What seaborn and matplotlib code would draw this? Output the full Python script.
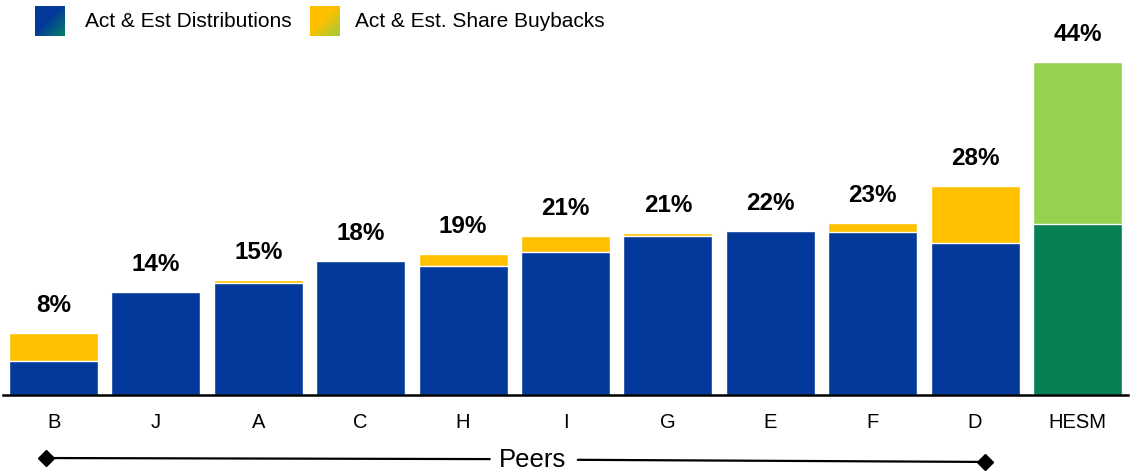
import numpy as np
import pandas as pd
import matplotlib
matplotlib.use("Agg")
import matplotlib.pyplot as plt
from matplotlib.colors import to_rgb
import seaborn as sns

# values (percent)
companies = ['B', 'J', 'A', 'C', 'H', 'I', 'G', 'E', 'F', 'D', 'HESM']
distributions = [4.5, 13.6, 14.8, 17.7, 17.0, 18.9, 21.0, 21.65, 21.5, 20.0, 22.6]
buybacks = [3.7, 0.0, 0.4, 0.0, 1.6, 2.1, 0.35, 0.0, 1.15, 7.6, 21.4]
labels = ['8%', '14%', '15%', '18%', '19%', '21%', '21%', '22%', '23%', '28%', '44%']
legend_names = ['Act & Est Distributions', 'Act & Est. Share Buybacks']

BLUE = '#02399A'
YELLOW = '#FFC000'
DKGREEN = '#058053'
LTGREEN = '#94D250'

df = pd.DataFrame({'company': companies,
                   'dist': distributions,
                   'buyback': buybacks})
df['total'] = df['dist'] + df['buyback']

sns.set_style("white")
plt.rcParams['font.family'] = ['Liberation Sans', 'DejaVu Sans']
plt.rcParams['text.color'] = 'black'
plt.rcParams['xtick.color'] = 'black'

W, H = 1131, 473
fig = plt.figure(figsize=(W / 100, H / 100), dpi=100)
ax = fig.add_axes([0.003, 0.1655, 0.994, 0.752])

top_cols = [YELLOW] * 10 + [LTGREEN]
base_cols = [BLUE] * 10 + [DKGREEN]

sns.barplot(data=df, x='company', y='total', hue='company', palette=top_cols,
            width=0.87, legend=False, ax=ax, saturation=1)
sns.barplot(data=df, x='company', y='dist', hue='company', palette=base_cols,
            width=0.87, legend=False, ax=ax, saturation=1)

for i, (t, lab) in enumerate(zip(df['total'], labels)):
    ax.text(i, t + 2.1, lab, ha='center', va='bottom', fontsize=17.5,
            fontweight='bold', color='black')

ax.set_xlim(-0.49, 10.49)
ax.set_ylim(0, 47)
ax.set_xlabel('')
ax.set_ylabel('')
ax.set_yticks([])
ax.tick_params(axis='x', length=0, pad=13, labelsize=14.5, labelcolor='black')
for s in ['top', 'left', 'right']:
    ax.spines[s].set_visible(False)
ax.spines['bottom'].set_color('black')
ax.spines['bottom'].set_linewidth(1.8)

# peers bracket under the axis
tr = ax.get_xaxis_transform()
ax.plot([-0.07, 4.26], [-0.178, -0.181], color='black', lw=1.6,
        transform=tr, clip_on=False)
ax.plot([5.12, 9.1], [-0.183, -0.189], color='black', lw=1.6,
        transform=tr, clip_on=False)
ax.plot([-0.07], [-0.178], marker='D', ms=8, color='black',
        transform=tr, clip_on=False)
ax.plot([9.1], [-0.189], marker='D', ms=8, color='black',
        transform=tr, clip_on=False)
ax.text(4.68, -0.183, 'Peers', ha='center', va='center', fontsize=18.5,
        transform=tr, color='black')


# legend: gradient squares + text
def grad_square(x0, y0, size, c1, c2):
    lax = fig.add_axes([x0 / W, 1 - (y0 + size) / H, size / W, size / H])
    u, v = np.meshgrid(np.linspace(0, 1, 60), np.linspace(0, 1, 60))
    t = np.clip((u + v - 0.9) / 1.1, 0, 1)[..., None]
    img = np.array(to_rgb(c1)) * (1 - t) + np.array(to_rgb(c2)) * t
    lax.imshow(img, aspect='auto', interpolation='bilinear')
    lax.set_axis_off()


grad_square(35, 6, 30, BLUE, '#068066')
grad_square(310, 6, 30, YELLOW, '#9CCB3E')
fig.text(85 / W, 1 - 21.5 / H, legend_names[0], fontsize=15, va='center',
         color='black')
fig.text(355 / W, 1 - 21.5 / H, legend_names[1], fontsize=15, va='center',
         color='black')

fig.savefig('out.png', dpi=100)
